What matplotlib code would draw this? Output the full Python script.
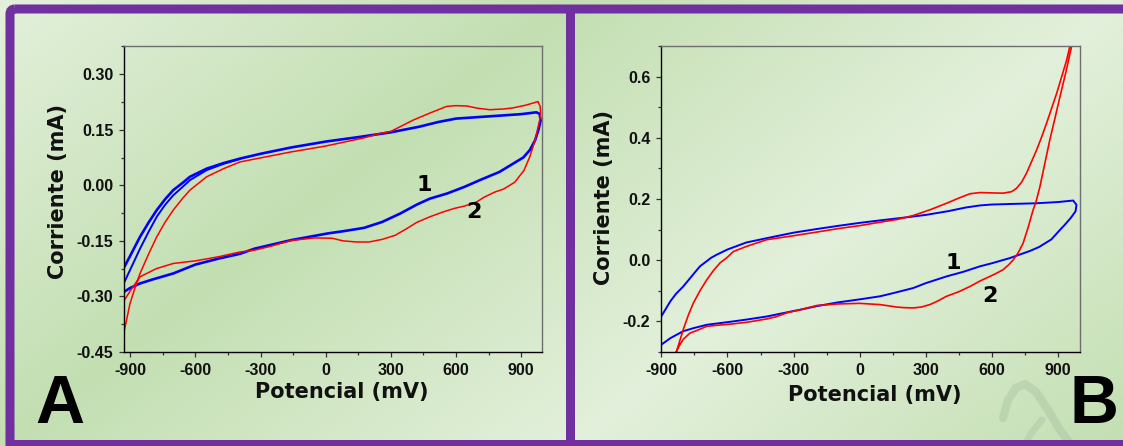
import numpy as np
import matplotlib
matplotlib.use('Agg')
import matplotlib.pyplot as plt
from matplotlib.patches import Rectangle, FancyBboxPatch
from matplotlib.ticker import AutoMinorLocator, FormatStrFormatter

plt.rcParams['axes.unicode_minus'] = False

#%% data (potential in mV, current in mA)

# panel A, curve 1 (blue), first cycle
a_blue_fwd_mv = [-927, -900, -855, -815, -778, -740, -702, -660, -625, -548, -470, -395, -300,
                 -160, 0, 150, 300, 430, 520, 600, 700, 800, 900, 970, 985]
a_blue_fwd_ma = [-0.220, -0.190, -0.139, -0.100, -0.067, -0.038, -0.013, 0.006, 0.023, 0.045, 0.060,
                 0.072, 0.085, 0.102, 0.118, 0.130, 0.143, 0.158, 0.171, 0.180, 0.184, 0.188,
                 0.192, 0.197, 0.193]
a_blue_rev_mv = [990, 980, 964, 940, 910, 862, 800, 710, 640, 560, 480, 420, 344, 260, 176, 80, 9,
                 -159, -327, -395, -494, -600, -702, -796, -855, -900, -927]
a_blue_rev_ma = [0.175, 0.150, 0.121, 0.095, 0.075, 0.058, 0.036, 0.014, -0.004, -0.022, -0.036,
                 -0.052, -0.076, -0.099, -0.115, -0.124, -0.130, -0.148, -0.171, -0.185, -0.198,
                 -0.214, -0.238, -0.254, -0.265, -0.277, -0.287]
# panel A, curve 1, second cycle (only where it departs from the first)
a_blue2_mv = [-927, -890, -855, -815, -778, -740, -702, -660, -625, -548, -470, -395]
a_blue2_ma = [-0.261, -0.215, -0.171, -0.125, -0.085, -0.053, -0.027, -0.005, 0.014, 0.041,
              0.058, 0.071]

# panel A, curve 2 (red)
a_red_fwd_mv = [-927, -901, -880, -855, -815, -778, -740, -702, -660, -625, -548, -470, -395,
                -300, -160, 0, 176, 250, 302, 403, 480, 557, 600, 650, 700, 756, 820, 863, 920,
                955, 978, 988]
a_red_fwd_ma = [-0.391, -0.319, -0.280, -0.238, -0.185, -0.139, -0.100, -0.067, -0.036, -0.013,
                0.023, 0.045, 0.063, 0.074, 0.090, 0.106, 0.128, 0.140, 0.146, 0.176, 0.195,
                0.213, 0.215, 0.214, 0.208, 0.204, 0.206, 0.209, 0.216, 0.222, 0.226, 0.212]
a_red_rev_mv = [990, 985, 964, 940, 913, 870, 820, 780, 730, 695, 640, 595, 540, 480, 420, 370,
                320, 260, 200, 140, 80, 30, -50, -159, -250, -327, -395, -494, -600, -702, -780,
                -855, -900, -927]
a_red_rev_ma = [0.194, 0.175, 0.121, 0.077, 0.040, 0.008, -0.010, -0.018, -0.032, -0.045, -0.056,
                -0.062, -0.072, -0.085, -0.100, -0.118, -0.135, -0.146, -0.153, -0.153, -0.150,
                -0.143, -0.142, -0.149, -0.164, -0.175, -0.180, -0.193, -0.204, -0.211, -0.225,
                -0.247, -0.285, -0.310]

# panel B, curve 1 (blue)
b_blue_fwd_mv = [-900, -860, -834, -801, -754, -725, -674, -649, -600, -514, -422, -300, -194,
                 -100, 0, 91, 200, 300, 400, 480, 546, 600, 700, 800, 900, 969, 984]
b_blue_fwd_ma = [-0.183, -0.135, -0.110, -0.086, -0.045, -0.020, 0.008, 0.018, 0.035, 0.058,
                 0.072, 0.090, 0.102, 0.112, 0.122, 0.130, 0.139, 0.148, 0.160, 0.172, 0.179,
                 0.182, 0.184, 0.186, 0.190, 0.195, 0.181]
b_blue_rev_mv = [980, 958, 930, 909, 870, 814, 772, 682, 600, 546, 470, 394, 300, 243, 150, 92, 0,
                 -100, -194, -271, -300, -422, -514, -574, -694, -754, -801, -860, -900]
b_blue_rev_ma = [0.160, 0.138, 0.115, 0.099, 0.068, 0.043, 0.030, 0.007, -0.010, -0.020, -0.038,
                 -0.053, -0.075, -0.091, -0.108, -0.118, -0.128, -0.138, -0.150, -0.162, -0.166,
                 -0.184, -0.194, -0.200, -0.211, -0.222, -0.232, -0.255, -0.276]

# panel B, curve 2 (red)
b_red_fwd_mv = [-838, -831, -816, -801, -778, -755, -725, -694, -664, -634, -600, -574, -514,
                -422, -300, -194, -100, 0, 91, 170, 243, 320, 394, 450, 500, 546, 600, 651, 690,
                712, 735, 757, 780, 803, 826, 848, 871, 894, 917, 939, 954, 960]
b_red_fwd_ma = [-0.310, -0.298, -0.262, -0.227, -0.180, -0.140, -0.100, -0.064, -0.034, -0.009,
                0.010, 0.028, 0.045, 0.067, 0.080, 0.092, 0.103, 0.113, 0.124, 0.133, 0.146,
                0.165, 0.186, 0.203, 0.217, 0.221, 0.220, 0.219, 0.224, 0.235, 0.255, 0.284,
                0.322, 0.360, 0.403, 0.447, 0.496, 0.545, 0.600, 0.653, 0.699, 0.720]
b_red_rev_mv = [968, 962, 936, 909, 886, 863, 840, 818, 800, 787, 765, 742, 720, 697, 675, 651,
                620, 591, 546, 500, 450, 394, 350, 319, 280, 243, 200, 167, 130, 91, 0, -100,
                -194, -271, -331, -380, -422, -514, -574, -650, -694, -740, -770, -800, -816,
                -830, -838]
b_red_rev_ma = [0.720, 0.699, 0.615, 0.534, 0.463, 0.393, 0.315, 0.240, 0.190, 0.164, 0.108,
                0.056, 0.025, 0.001, -0.016, -0.031, -0.043, -0.053, -0.068, -0.086, -0.103,
                -0.118, -0.135, -0.145, -0.153, -0.156, -0.155, -0.153, -0.149, -0.145, -0.141,
                -0.143, -0.148, -0.162, -0.172, -0.185, -0.192, -0.203, -0.208, -0.213, -0.216,
                -0.230, -0.238, -0.258, -0.276, -0.295, -0.310]

x_ticks = [-900, -600, -300, 0, 300, 600, 900]
a_y_ticks = [-0.45, -0.30, -0.15, 0.00, 0.15, 0.30]
b_y_ticks = [-0.2, 0.0, 0.2, 0.4, 0.6]

#%% figure

W, H = 1123, 446
fig = plt.figure(figsize=(W / 100, H / 100), dpi=100)

# background: green gradients + purple frame, in pixel coordinates
bg = fig.add_axes([0, 0, 1, 1])
bg.axis('off')

light = np.array([227, 240, 219]) / 255
dark = np.array([195, 223, 178]) / 255

def gradient(w, h, dark_centre):
    yy, xx = np.mgrid[0:h, 0:w]
    t = (xx / w + yy / h) / 2
    k = 1 - np.abs(2 * t - 1)
    if not dark_centre:
        k = 1 - k
    return light + (dark - light) * k[..., None]

bg.imshow(gradient(570, H, True), extent=(0, 570, H, 0), aspect='auto', zorder=0)
bg.imshow(gradient(W - 570, H, False), extent=(570, W, H, 0), aspect='auto', zorder=0)
bg.set_xlim(0, W)
bg.set_ylim(H, 0)

purple = '#7030a0'
bg.add_patch(FancyBboxPatch((10, 9), W, H, boxstyle='round,pad=0,rounding_size=5',
                            facecolor='none', edgecolor=purple, lw=6.5, zorder=2))
for r in [(566, 5, 9, H - 5), (6, 440, W - 6, 6)]:
    bg.add_patch(Rectangle(r[:2], r[2], r[3], facecolor=purple, edgecolor='none', zorder=2))

# faint watermark strokes in panel B
bg.plot([1003, 1008, 1016, 1025, 1036, 1048, 1060, 1072], [418, 400, 388, 384, 392, 410, 430, 446],
        color='#9fb99a', lw=6, alpha=0.35, solid_capstyle='round', zorder=1)
bg.plot([1024, 1032, 1042], [446, 432, 420], color='#9fb99a', lw=5, alpha=0.3,
        solid_capstyle='round', zorder=1)

tick_font = dict(family='Liberation Sans', weight='bold', size=11.5)
label_font = dict(family='DejaVu Sans', weight='bold', size=15)
num_font = dict(family='DejaVu Sans', weight='bold', size=16)

def style_axes(ax, yfmt):
    ax.set_facecolor('none')
    for s in ['left', 'bottom']:
        ax.spines[s].set_color('black')
        ax.spines[s].set_linewidth(1.0)
    for s in ['top', 'right']:
        ax.spines[s].set_color('#6e6e6e')
        ax.spines[s].set_linewidth(1.0)
    ax.xaxis.set_minor_locator(AutoMinorLocator(2))
    ax.yaxis.set_minor_locator(AutoMinorLocator(2))
    ax.tick_params(which='major', direction='out', length=3.6, width=0.9, color='#333333')
    ax.tick_params(which='minor', direction='out', length=2.2, width=0.9, color='#333333')
    ax.tick_params(axis='x', pad=4.2)
    ax.tick_params(axis='y', pad=4.4)
    ax.set_xticks(x_ticks)
    ax.yaxis.set_major_formatter(FormatStrFormatter(yfmt))
    for lab in ax.get_xticklabels() + ax.get_yticklabels():
        lab.set_fontproperties(matplotlib.font_manager.FontProperties(**tick_font))
        lab.set_color('#111111')
    ax.set_xlabel('Potencial (mV)', **label_font, color='#111111')
    ax.set_ylabel('Corriente (mA)', **label_font, color='#111111')
    ax.xaxis.label.set_verticalalignment('center')
    ax.yaxis.label.set_verticalalignment('center')

#%% panel A
axA = fig.add_axes([124.4 / W, 1 - 352 / H, 418 / W, 306 / H])
axA.plot(a_blue_fwd_mv + a_blue_rev_mv, a_blue_fwd_ma + a_blue_rev_ma, color='#0000ff', lw=1.9,
         solid_joinstyle='round')
axA.plot(a_blue2_mv, a_blue2_ma, color='#0000ff', lw=1.4, solid_joinstyle='round')
axA.plot(a_red_fwd_mv + a_red_rev_mv, a_red_fwd_ma + a_red_rev_ma, color='#ff0000', lw=1.1,
         solid_joinstyle='round')
axA.set_xlim(-927, 998)
axA.set_ylim(-0.45, 0.376)
axA.set_yticks(a_y_ticks)
style_axes(axA, '%.2f')
axA.xaxis.set_label_coords(0.52, -0.132)
axA.yaxis.set_label_coords(-0.159, 0.526)
axA.text(452, 0.0, '1', ha='center', va='center', **num_font)
axA.text(683, -0.073, '2', ha='center', va='center', **num_font)

#%% panel B
axB = fig.add_axes([661.4 / W, 1 - 352 / H, 418.6 / W, 306 / H])
axB.plot(b_blue_fwd_mv + b_blue_rev_mv, b_blue_fwd_ma + b_blue_rev_ma, color='#0000ff', lw=1.4,
         solid_joinstyle='round')
axB.plot(b_red_fwd_mv + b_red_rev_mv, b_red_fwd_ma + b_red_rev_ma, color='#ff0000', lw=1.2,
         solid_joinstyle='round')
axB.set_xlim(-900, 1000)
axB.set_ylim(-0.3, 0.7)
axB.set_yticks(b_y_ticks)
style_axes(axB, '%.1f')
axB.xaxis.set_label_coords(0.51, -0.14)
axB.yaxis.set_label_coords(-0.136, 0.505)
axB.text(423, -0.008, '1', ha='center', va='center', **num_font)
axB.text(591, -0.116, '2', ha='center', va='center', **num_font)

# panel letters
fig.text(35 / W, 1 - 423 / H, 'A', family='Liberation Sans', weight='bold', size=49,
         ha='left', va='baseline')
fig.text(1070 / W, 1 - 423 / H, 'B', family='Liberation Sans', weight='bold', size=49,
         ha='left', va='baseline')

fig.savefig('out.png', dpi=100)
